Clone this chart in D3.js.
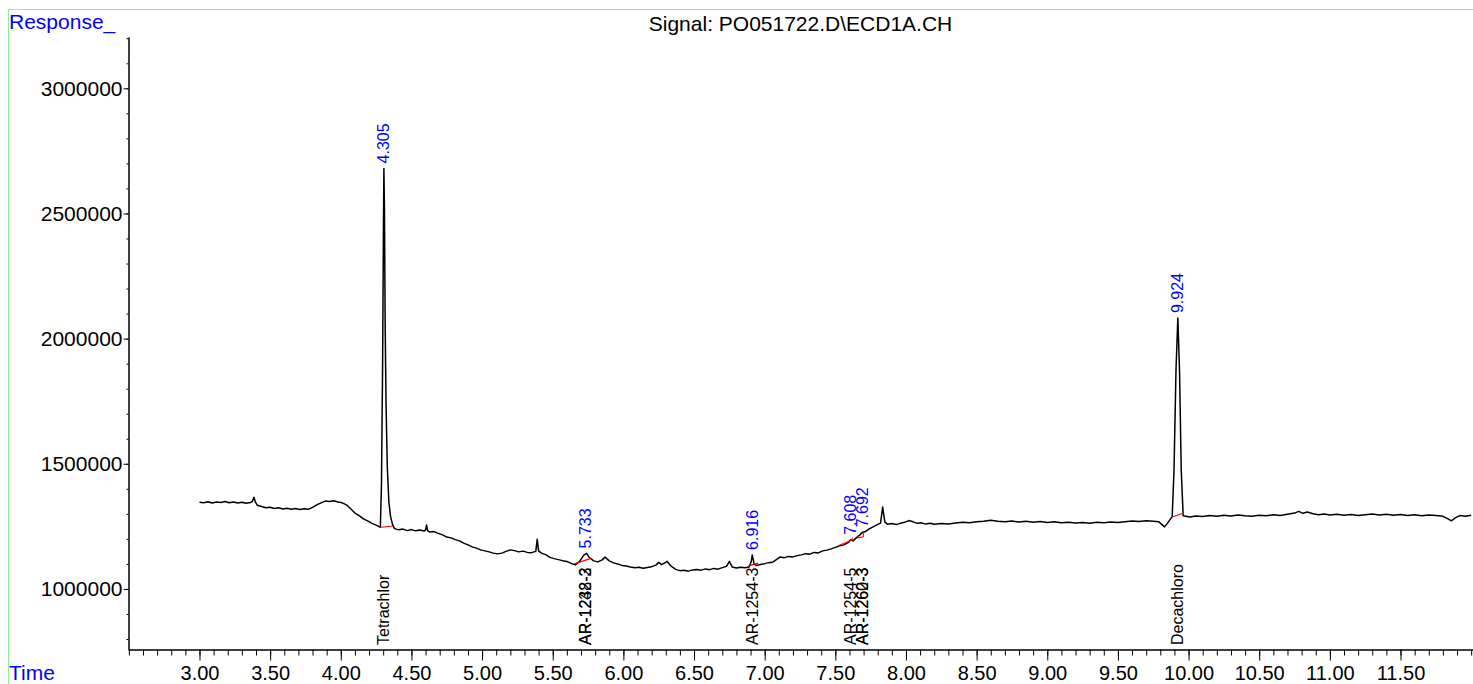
<!DOCTYPE html>
<html><head><meta charset="utf-8">
<script src="https://cdn.jsdelivr.net/npm/d3@7"></script>
<style>
body{margin:0;background:#fff;overflow:hidden}
text{font-family:"Liberation Sans",Arial,Helvetica,sans-serif}
</style>
</head><body>
<svg id="chart" width="1473" height="684"></svg>
<script>
// ---------------- data ----------------
const titleText = "Signal: PO051722.D\\ECD1A.CH";
const yTitle = "Response_";
const xTitle = "Time";
const xDomain = [2.494, 12.013];
const yDomain = [760000, 3205000];
const xMajorTicks = [3.0,3.5,4.0,4.5,5.0,5.5,6.0,6.5,7.0,7.5,8.0,8.5,9.0,9.5,10.0,10.5,11.0,11.5];
const yMajorTicks = [1000000,1500000,2000000,2500000,3000000];

// chromatogram trace: [time (min), response]
const trace = [
[3.00,1346000],[3.03,1344000],[3.06,1348000],[3.09,1343000],[3.12,1347000],[3.15,1345000],[3.18,1349000],
[3.21,1344000],[3.24,1347000],[3.27,1343000],[3.30,1346000],[3.33,1342000],[3.36,1345000],[3.375,1350000],
[3.385,1366000],[3.395,1348000],[3.41,1334000],[3.44,1329000],[3.47,1324000],[3.50,1326000],[3.53,1321000],
[3.56,1324000],[3.59,1319000],[3.62,1322000],[3.65,1318000],[3.68,1321000],[3.71,1317000],[3.74,1320000],
[3.77,1318000],[3.80,1326000],[3.83,1336000],[3.86,1344000],[3.89,1351000],[3.92,1349000],[3.95,1352000],
[3.98,1347000],[4.01,1344000],[4.04,1336000],[4.07,1320000],[4.10,1303000],[4.13,1293000],[4.16,1280000],
[4.19,1272000],[4.22,1262000],[4.25,1255000],[4.27,1249000],
[4.280,1247000],[4.288,1420000],[4.296,1900000],[4.302,2450000],[4.305,2680000],[4.309,2520000],
[4.314,2060000],[4.320,1750000],[4.329,1490000],[4.340,1350000],[4.352,1290000],[4.366,1258000],
[4.38,1241000],[4.41,1236000],[4.44,1239000],[4.47,1233000],[4.50,1237000],[4.53,1232000],[4.56,1235000],
[4.59,1231000],[4.600,1236000],[4.607,1255000],[4.614,1233000],[4.63,1227000],[4.66,1229000],[4.69,1222000],
[4.72,1216000],[4.75,1207000],[4.78,1204000],[4.81,1197000],[4.84,1192000],[4.87,1183000],[4.90,1176000],
[4.93,1168000],[4.96,1163000],[4.99,1156000],[5.02,1152000],[5.05,1148000],[5.08,1143000],[5.11,1140000],
[5.14,1143000],[5.17,1150000],[5.20,1156000],[5.23,1153000],[5.26,1148000],[5.29,1151000],[5.32,1146000],
[5.35,1145000],[5.38,1150000],[5.39,1198000],[5.40,1152000],[5.42,1143000],[5.45,1137000],[5.48,1126000],
[5.51,1121000],[5.54,1117000],[5.57,1113000],[5.60,1110000],[5.63,1102000],[5.66,1096000],[5.69,1110000],
[5.72,1135000],[5.74,1142000],[5.76,1125000],[5.79,1112000],[5.82,1108000],[5.85,1116000],[5.87,1127000],
[5.90,1112000],[5.93,1104000],[5.96,1100000],[5.99,1094000],[6.02,1092000],[6.05,1088000],[6.08,1085000],
[6.11,1087000],[6.14,1083000],[6.17,1086000],[6.20,1089000],[6.23,1095000],[6.25,1106000],[6.27,1097000],
[6.29,1103000],[6.31,1110000],[6.34,1090000],[6.37,1078000],[6.40,1073000],[6.43,1075000],[6.46,1071000],
[6.49,1076000],[6.52,1078000],[6.55,1075000],[6.58,1080000],[6.61,1077000],[6.64,1082000],[6.67,1079000],
[6.70,1085000],[6.73,1090000],[6.75,1110000],[6.77,1088000],[6.80,1084000],[6.83,1087000],[6.86,1085000],
[6.89,1088000],[6.905,1110000],[6.912,1136000],[6.925,1100000],[6.94,1094000],[6.97,1098000],[7.00,1101000],
[7.03,1105000],[7.06,1108000],[7.09,1120000],[7.11,1128000],[7.14,1125000],[7.17,1130000],[7.20,1128000],
[7.23,1133000],[7.26,1136000],[7.29,1141000],[7.32,1139000],[7.35,1146000],[7.38,1144000],[7.41,1152000],
[7.44,1155000],[7.47,1160000],[7.50,1166000],[7.53,1172000],[7.56,1176000],[7.59,1185000],[7.608,1196000],
[7.625,1192000],[7.65,1205000],[7.67,1214000],[7.692,1226000],[7.71,1228000],[7.74,1240000],[7.77,1249000],
[7.80,1258000],[7.82,1263000],[7.835,1327000],[7.85,1268000],[7.87,1258000],[7.90,1261000],[7.93,1257000],
[7.96,1262000],[7.99,1266000],[8.02,1273000],[8.05,1268000],[8.08,1262000],[8.11,1264000],[8.14,1259000],
[8.17,1262000],[8.20,1258000],[8.25,1261000],[8.30,1259000],[8.35,1263000],[8.40,1266000],[8.45,1264000],
[8.50,1268000],[8.55,1270000],[8.60,1274000],[8.65,1270000],[8.70,1268000],[8.75,1271000],[8.80,1267000],
[8.85,1270000],[8.90,1266000],[8.95,1269000],[9.00,1265000],[9.05,1268000],[9.10,1264000],[9.15,1266000],
[9.20,1263000],[9.25,1265000],[9.30,1262000],[9.35,1266000],[9.40,1264000],[9.45,1267000],[9.50,1265000],
[9.55,1268000],[9.60,1271000],[9.65,1269000],[9.70,1272000],[9.75,1270000],[9.79,1268000],[9.81,1258000],
[9.83,1248000],[9.85,1262000],[9.87,1278000],
[9.884,1288000],[9.897,1475000],[9.911,1874000],[9.924,2082000],[9.936,1874000],[9.948,1475000],[9.962,1292000],
[9.98,1290000],[10.01,1287000],[10.05,1291000],[10.10,1289000],[10.15,1293000],[10.20,1290000],[10.25,1294000],
[10.30,1291000],[10.35,1295000],[10.40,1292000],[10.45,1290000],[10.50,1294000],[10.55,1292000],[10.60,1296000],
[10.65,1293000],[10.70,1298000],[10.75,1303000],[10.78,1310000],[10.81,1302000],[10.84,1307000],[10.88,1300000],
[10.92,1296000],[10.96,1299000],[11.00,1295000],[11.05,1298000],[11.10,1294000],[11.15,1297000],[11.20,1293000],
[11.25,1296000],[11.30,1299000],[11.35,1295000],[11.40,1298000],[11.45,1294000],[11.50,1297000],[11.55,1293000],
[11.60,1296000],[11.65,1292000],[11.70,1295000],[11.75,1293000],[11.80,1290000],[11.83,1282000],[11.86,1272000],
[11.89,1285000],[11.92,1293000],[11.96,1290000],[12.00,1294000]
];

// integrated peaks (retention time labels)
const peakTimes  = [4.305, 5.733, 6.916, 7.608, 7.692, 9.924];
const peakLabels = ["4.305","5.733","6.916","7.608","7.692","9.924"];

// integration baselines (red): list of [time, response] polylines
const baselines = [
  [[4.270,1245500],[4.369,1251500]],
  [[5.652,1100000],[5.771,1122000]],
  [[6.884,1092000],[6.955,1103000]],
  [[7.520,1172900],[7.620,1195600],[7.620,1205000]],
  [[7.662,1212000],[7.662,1204000],[7.698,1208000],[7.698,1226000]],
  [[9.890,1288600],[9.967,1303500]]
];

// compound identification labels
const compoundTimes = [4.305, 5.733, 5.733, 6.916, 7.608, 7.692, 7.692, 9.924];
const compoundNames = ["Tetrachlor","AR-1232-2","AR-1248-3","AR-1254-3","AR-1254-5","AR-1260-3","AR-1262-3","Decachloro"];

// ---------------- drawing ----------------
const svg = d3.select("#chart");
const x = d3.scaleLinear().domain(xDomain).range([128, 1473]);
const y = d3.scaleLinear().domain(yDomain).range([649, 37]);

// frame
svg.append("rect").attr("x",8.5).attr("y",9.5).attr("width",1480).attr("height",700)
  .attr("fill","none").attr("stroke","#8cf08c").attr("stroke-width",1);

// titles
svg.append("text").attr("x",9).attr("y",29).attr("fill","#0000ff").attr("font-size",21).text(yTitle);
svg.append("text").attr("x",9).attr("y",679.5).attr("fill","#0000ff").attr("font-size",21).text(xTitle);
svg.append("text").attr("x",800.5).attr("y",31).attr("text-anchor","middle").attr("fill","#000")
  .attr("font-size",21).text(titleText);

// y axis
const yMinor = d3.range(800000, 3200001, 100000);
svg.append("g").attr("transform","translate(128.5,0)")
  .call(d3.axisLeft(y).tickValues(yMinor).tickSize(2).tickSizeOuter(0).tickFormat(""));
const gy = svg.append("g").attr("transform","translate(128.5,0)")
  .call(d3.axisLeft(y).tickValues(yMajorTicks).tickSize(5).tickSizeOuter(0).tickPadding(1).tickFormat(d3.format("d")));
gy.selectAll("text").attr("font-size",21).attr("font-family","Liberation Sans, Arial, sans-serif").attr("fill","#000");

// x axis
const xMinor = d3.range(25, 121).map(d => d/10);
svg.append("g").attr("transform","translate(0,649.5)")
  .call(d3.axisBottom(x).tickValues(xMinor).tickSize(6).tickSizeOuter(0).tickFormat(""));
const gx = svg.append("g").attr("transform","translate(0,649.5)")
  .call(d3.axisBottom(x).tickValues(xMajorTicks).tickSize(11).tickSizeOuter(0).tickPadding(5).tickFormat(d3.format(".2f")));
gx.selectAll("text").attr("font-size",20).attr("font-family","Liberation Sans, Arial, sans-serif").attr("fill","#000");
svg.selectAll(".domain").attr("stroke","#000");
svg.selectAll(".tick line").attr("stroke","#000");

// trace
const line = d3.line().x(d => x(d[0])).y(d => y(d[1]));
svg.append("path").datum(trace).attr("d", line).attr("fill","none")
  .attr("stroke","#000").attr("stroke-width",1.5).attr("stroke-linejoin","round");

// baselines
svg.selectAll(".bl").data(baselines).join("path").attr("class","bl")
  .attr("d", line).attr("fill","none").attr("stroke","#ff0000").attr("stroke-width",1.1);

// peak labels
function localMax(t){
  const pts = trace.filter(p => Math.abs(p[0]-t) <= 0.015);
  return d3.max(pts, p => p[1]);
}
peakTimes.forEach((t,i) => {
  const px = x(t), py = y(localMax(t)) - 5;
  svg.append("text").attr("transform",`translate(${px},${py}) rotate(-90)`)
    .attr("dy","0.35em").attr("text-anchor","start").attr("fill","#0000ff")
    .attr("font-size",16).text(peakLabels[i]);
});

// compound labels
compoundTimes.forEach((t,i) => {
  svg.append("text").attr("transform",`translate(${x(t)},645) rotate(-90)`)
    .attr("dy","0.35em").attr("text-anchor","start").attr("fill","#000")
    .attr("font-size",16).text(compoundNames[i]);
});
</script>
</body></html>
